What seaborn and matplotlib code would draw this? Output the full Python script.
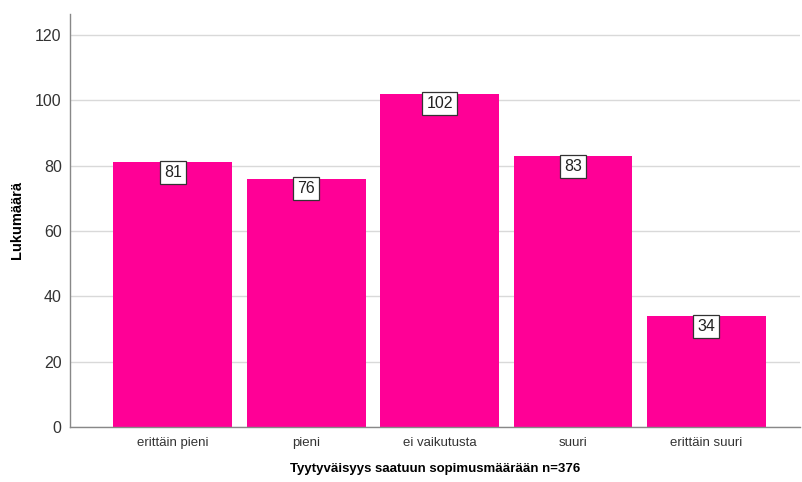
import matplotlib
matplotlib.use("Agg")
import matplotlib.pyplot as plt
import seaborn as sns
import pandas as pd

# data
categories = ["erittäin pieni", "pieni", "ei vaikutusta", "suuri", "erittäin suuri"]
counts = [81, 76, 102, 83, 34]
y_ticks = [0, 20, 40, 60, 80, 100, 120]

x_title = "Tyytyväisyys saatuun sopimusmäärään n=376"
y_title = "Lukumäärä"

sns.set_style("white")
plt.rcParams['font.family'] = ['Liberation Sans', 'DejaVu Sans']

df = pd.DataFrame({"category": categories, "count": counts})

fig = plt.figure(figsize=(8.03, 4.82), dpi=100)
ax = fig.add_axes([0.0872, 0.1141, 0.9088, 0.8569])

sns.barplot(data=df, x="category", y="count", color="#ff0096", saturation=1,
            width=0.89, linewidth=0, ax=ax, zorder=2)

# value labels in white boxes hanging from the bar tops
for i, v in enumerate(counts):
    ax.annotate(str(v), xy=(i, v), xytext=(0, -2), textcoords="offset points",
                ha="center", va="top", fontsize=11.5, color="#222222", zorder=4,
                bbox=dict(boxstyle="square,pad=0.25", fc="white", ec="#333333", lw=0.9))

ax.set_ylim(0, 126.4)
ax.set_xlim(-0.77, 4.70)
ax.set_yticks(y_ticks)
ax.yaxis.grid(True, color="#d9d9d9", lw=1, zorder=0)
ax.set_axisbelow(True)

for s in ["top", "right"]:
    ax.spines[s].set_visible(False)
for s in ["left", "bottom"]:
    ax.spines[s].set_color("#888888")
    ax.spines[s].set_linewidth(1)

ax.tick_params(axis="both", length=0, colors="#333333")
ax.tick_params(axis="y", labelsize=11.5, pad=6)
ax.tick_params(axis="x", labelsize=9.5, pad=7)

ax.set_xlabel(x_title, fontsize=9.5, fontweight="bold", labelpad=10, color="black")
ax.set_ylabel(y_title, fontsize=10.5, fontweight="bold", labelpad=8, color="black")

fig.savefig("out.png", dpi=100)
